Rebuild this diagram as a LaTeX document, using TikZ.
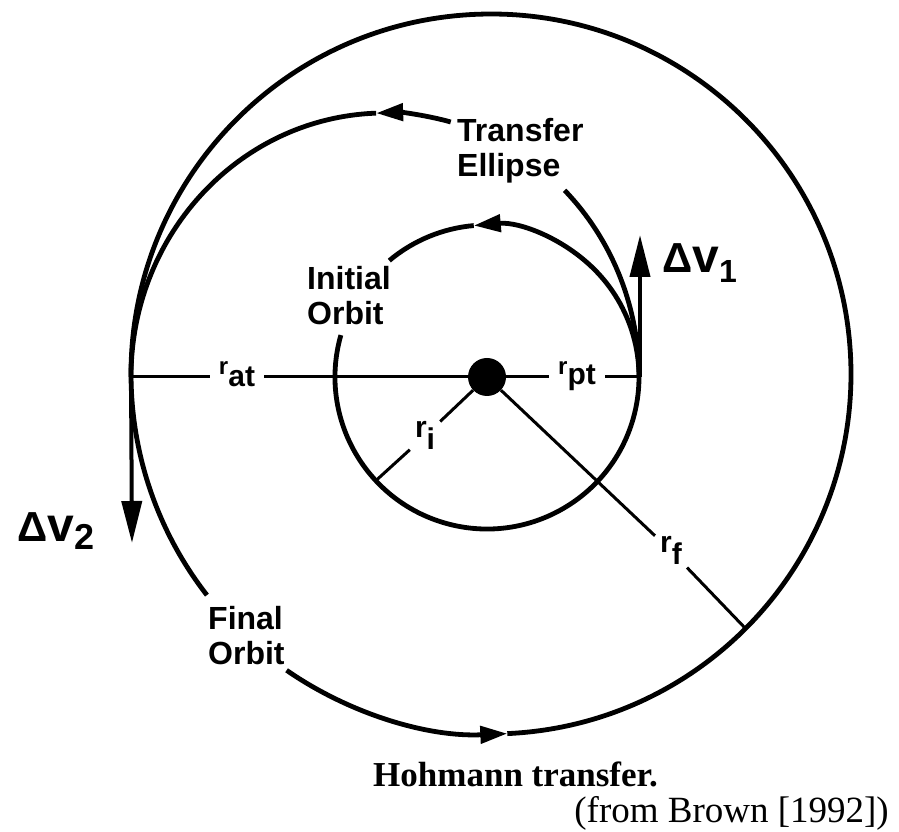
\documentclass[tikz,border=0pt]{standalone}
\usepackage{fontspec}
\setmainfont{Liberation Sans}
\newfontfamily\capserif{Liberation Serif}
\usetikzlibrary{arrows.meta}
\begin{document}
\begin{tikzpicture}[x=1pt,y=1pt,
  orbit/.style={line width=4.8pt},
  radial/.style={line width=3pt},
  otip/.style={-{Triangle[length=27pt,width=17pt]}},
  dvtip/.style={line width=4pt,-{Triangle[length=42pt,width=20pt]}},
  lbl/.style={font=\fontsize{32}{35}\selectfont\bfseries, align=left, inner sep=0pt, anchor=north west},
  rl/.style={inner xsep=9pt, inner ysep=4pt, anchor=base, font=\bfseries}
]
\useasboundingbox (0,0) rectangle (899,832);
\coordinate (C) at (487,455);
\coordinate (F) at (491,458);
\coordinate (E) at (385,455);
\coordinate (P) at (639,455);
\coordinate (P1) at (640,455);
\coordinate (A) at (131,455);
\coordinate (Ri) at ([shift={(223:152)}]C);
\coordinate (Rf) at ([shift={(-45:360)}]F);
\coordinate (dv1tip) at (640,597);
\coordinate (dv2tip) at (132,289);

% initial orbit
\draw[orbit,otip] ([shift={(164:152)}]C) arc[start angle=164,end angle=455,radius=152];
\draw[orbit] ([shift={(95:152)}]C) arc[start angle=95,end angle=130,radius=152];

% transfer ellipse
\draw[orbit] (P) arc[start angle=0,end angle=45,x radius=254,y radius=264];
\draw[orbit,otip] ([shift={(75:254 and 264)}]E) arc[start angle=75,end angle=92,x radius=254,y radius=264];
\draw[orbit] ([shift={(92:254 and 264)}]E) arc[start angle=92,end angle=180,x radius=254,y radius=264];

% final orbit
\draw[orbit,otip] ([shift={(235.4:360)}]F) arc[start angle=235.4,end angle=272.6,radius=360];
\draw[orbit] ([shift={(272.6:360)}]F) arc[start angle=272.6,end angle=577.9,radius=360];

% planet
\node[circle,fill=black,minimum size=38pt,inner sep=0pt] (planet) at (C) {};

% radius labels
\node[rl] (lat) at (237,457) {{\fontsize{24}{24}\selectfont r}\raisebox{-12pt}{\fontsize{30}{30}\selectfont at}};
\node[rl] (lpt) at (577,457) {{\fontsize{24}{24}\selectfont r}\raisebox{-10pt}{\fontsize{30}{30}\selectfont pt}};
\node[rl,inner xsep=5pt] (li) at (425,394) {\fontsize{30}{30}\selectfont r\raisebox{-12pt}{i}};
\node[rl,inner xsep=5pt] (lf) at (671,279) {\fontsize{30}{30}\selectfont r\raisebox{-12pt}{f}};

\draw[radial] (A) -- (A -| lat.west) (A -| lat.east) -- (planet);
\draw[radial] (planet) -- (P -| lpt.west) (P -| lpt.east) -- (P);
\draw[radial] (planet) -- (li) (li) -- (Ri);
\draw[radial] (planet) -- (lf) (lf) -- (Rf);

% delta-v arrows
\draw[dvtip] (P1) -- (dv1tip);
\draw[dvtip] (A) -- (dv2tip);
\node[anchor=base west,inner sep=0pt,font=\bfseries] (dv1) at (662,559)
  {{\fontsize{42}{42}\selectfont Δ}{\fontsize{48}{48}\selectfont v}\raisebox{-10pt}{\fontsize{32}{32}\selectfont 1}};
\node[anchor=base west,inner sep=0pt,font=\bfseries] (dv2) at (17,290)
  {{\fontsize{42}{42}\selectfont Δ}{\fontsize{48}{48}\selectfont v}\raisebox{-8pt}{\fontsize{36}{36}\selectfont 2}};

% orbit labels
\node[lbl] (init) at (307,566) {Initial\\Orbit};
\node[lbl] (fin) at (208,226) {Final\\Orbit};
\node[lbl] (trans) at (457,714) {Transfer\\Ellipse};

% caption
\node[anchor=base west,inner sep=0pt,font=\capserif\bfseries\fontsize{35}{35}\selectfont] (cap) at (373,45) {Hohmann transfer.};
\node[anchor=base east,inner sep=0pt,font=\capserif\fontsize{37}{37}\selectfont] (src) at (889,9) {(from Brown [1992])};
\end{tikzpicture}
\end{document}
